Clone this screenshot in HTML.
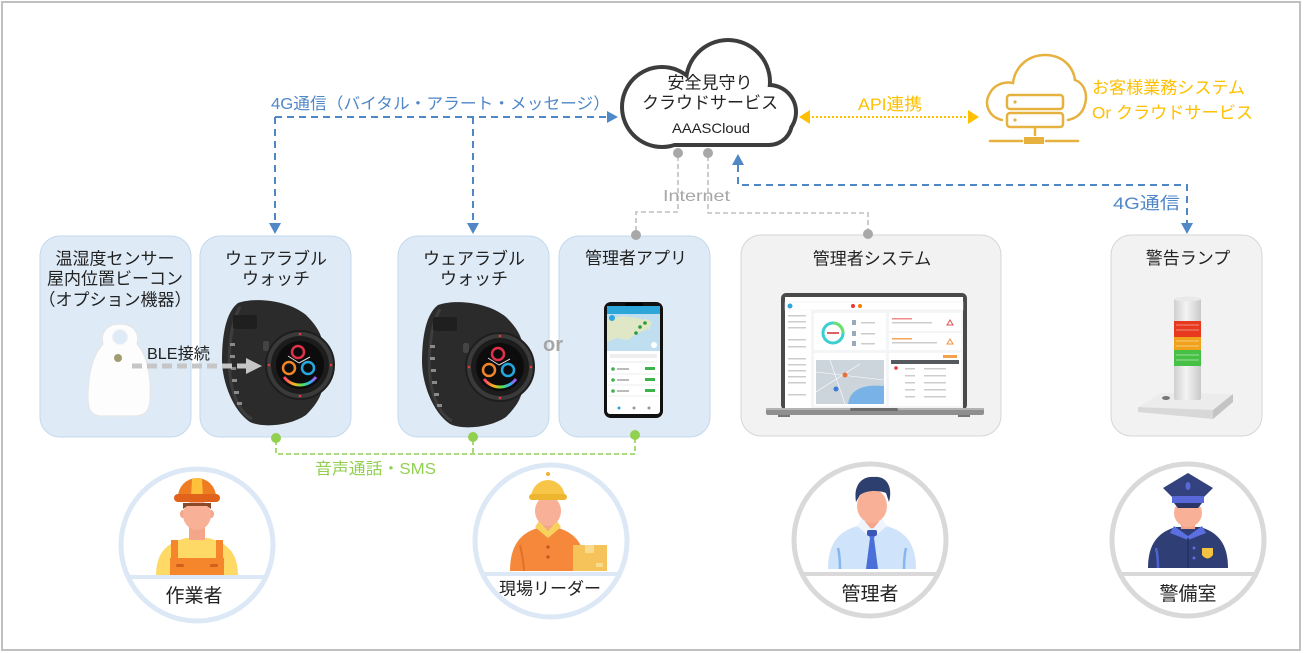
<!DOCTYPE html>
<html><head><meta charset="utf-8"><style>
html,body{margin:0;padding:0;background:#fff;}
svg{display:block;}
text{font-family:"Liberation Sans","Noto Sans CJK JP",sans-serif;}
</style></head><body>
<svg width="1305" height="653" viewBox="0 0 1305 653" xmlns="http://www.w3.org/2000/svg">
<defs>
  <linearGradient id="col" x1="0" x2="1" y1="0" y2="0">
    <stop offset="0" stop-color="#cfcfcf"/><stop offset="0.45" stop-color="#f4f4f4"/><stop offset="1" stop-color="#c9c9c9"/>
  </linearGradient>
  <linearGradient id="rb" x1="0" x2="1" y1="0" y2="0">
    <stop offset="0" stop-color="#ff3b6b"/><stop offset="0.3" stop-color="#ffb020"/><stop offset="0.55" stop-color="#5de04a"/><stop offset="0.8" stop-color="#29b6f6"/><stop offset="1" stop-color="#b04cf0"/>
  </linearGradient>
  <g id="watch">
    <path d="M-62,-62 C-45,-68 -12,-65 6,-50 C14,-42 20,-34 22,-25 L22,25 C20,34 14,42 6,50 C-10,61 -38,63 -50,57 C-68,45 -78,15 -78,-5 C-78,-30 -74,-53 -62,-62 Z" fill="#2b2b2b"/>
    <path d="M-60,-58 C-70,-40 -72,-10 -70,10 C-68,30 -60,48 -48,54" fill="none" stroke="#3d3d3d" stroke-width="3"/>
    <rect x="-67" y="-50" width="24" height="14" rx="2" fill="#1f1f1f"/>
    <rect x="-70" y="-22" width="5" height="3" fill="#8a8a8a"/>
    <rect x="-70" y="-10" width="5" height="3" fill="#8a8a8a"/>
    <rect x="-69" y="2" width="5" height="3" fill="#8a8a8a"/>
    <rect x="-68" y="14" width="5" height="3" fill="#8a8a8a"/>
    <rect x="-66" y="26" width="5" height="3" fill="#8a8a8a"/>
    <rect x="-63" y="37" width="5" height="3" fill="#8a8a8a"/>
    <rect x="-37" y="-24" width="6" height="10" rx="2" fill="#444"/>
    <circle cx="0" cy="0" r="34" fill="#3a3a3a" stroke="#1e1e1e" stroke-width="2"/>
    <circle cx="0" cy="0" r="29" fill="#1c1c1c"/>
    <circle cx="0" cy="0" r="24" fill="#0c0c0c"/>
    <circle cx="0" cy="-31" r="1.3" fill="#e03a3a"/>
    <circle cx="-31" cy="0" r="1.3" fill="#e03a3a"/>
    <circle cx="31" cy="0" r="1.3" fill="#e03a3a"/>
    <circle cx="0" cy="31" r="1.3" fill="#e03a3a"/>
    <circle cx="-2" cy="-13" r="6" fill="none" stroke="#e0304a" stroke-width="2.5"/>
    <circle cx="-11" cy="3" r="6" fill="none" stroke="#f0842a" stroke-width="2.5"/>
    <circle cx="8" cy="3" r="6" fill="none" stroke="#25a8e0" stroke-width="2.5"/>
    <path d="M-16,12 A20,20 0 0 0 16,12" fill="none" stroke="url(#rb)" stroke-width="3"/>
    <line x1="-1" y1="-2" x2="-12" y2="-9" stroke="#ddd" stroke-width="1"/>
    <line x1="-1" y1="-2" x2="10" y2="-8" stroke="#ddd" stroke-width="1"/>
  </g>
</defs>

<rect x="0" y="0" width="1305" height="653" fill="#fff"/>
<rect x="2" y="2" width="1298" height="648" fill="none" stroke="#c0c0c0" stroke-width="2"/>

<!-- Boxes -->
<rect x="40" y="236" width="151" height="201" rx="20" fill="#deebf7" stroke="#c3d8ee" stroke-width="1"/>
<rect x="200" y="236" width="151" height="201" rx="20" fill="#deebf7" stroke="#c3d8ee" stroke-width="1"/>
<rect x="398" y="236" width="151" height="201" rx="20" fill="#deebf7" stroke="#c3d8ee" stroke-width="1"/>
<rect x="559" y="236" width="151" height="201" rx="20" fill="#deebf7" stroke="#c3d8ee" stroke-width="1"/>
<rect x="741" y="235" width="260" height="201" rx="20" fill="#f2f2f2" stroke="#d6d6d6" stroke-width="1"/>
<rect x="1111" y="235" width="151" height="201" rx="20" fill="#f2f2f2" stroke="#d6d6d6" stroke-width="1"/>

<!-- box texts -->
<g font-size="17" fill="#222" text-anchor="middle">
  <text x="115" y="264.5">温湿度センサー</text>
  <text x="115" y="284.5">屋内位置ビーコン</text>
  <text x="115" y="305.5">（オプション機器）</text>
  <text x="276" y="264.5">ウェアラブル</text>
  <text x="276" y="284.5">ウォッチ</text>
  <text x="474" y="264.5">ウェアラブル</text>
  <text x="474" y="284.5">ウォッチ</text>
  <text x="636" y="264">管理者アプリ</text>
  <text x="872" y="264.5">管理者システム</text>
  <text x="1188" y="264">警告ランプ</text>
</g>

<!-- Tag device -->
<path d="M120,324 C133,324 140,333 137,344 C148,356 151,378 150,398 C150,411 145,416 134,416 L102,416 C92,416 88,410 88,398 C88,376 92,356 103,344 C100,333 107,324 120,324 Z" fill="#fdfdfd" stroke="#e4e4e4" stroke-width="1"/>
<circle cx="120" cy="337" r="7.5" fill="#deebf7" stroke="#f2f2f2" stroke-width="1"/>
<circle cx="118" cy="358" r="4" fill="#a29c70"/>

<!-- Watches -->
<use href="#watch" x="300" y="365"/>
<use href="#watch" x="500" y="367"/>

<!-- BLE arrow -->
<line x1="132" y1="366" x2="248" y2="366" stroke="#c6c6c6" stroke-width="5" stroke-dasharray="10 5"/>
<polygon points="246,358 262,366 246,374" fill="#c6c6c6"/>
<text x="147" y="359" font-size="16" fill="#222" textLength="63" lengthAdjust="spacingAndGlyphs">BLE接続</text>

<!-- or -->
<text x="553" y="351" font-size="20" font-weight="bold" fill="#a6a6a6" text-anchor="middle">or</text>

<!-- Phone -->
<rect x="604" y="302" width="59" height="116" rx="7" fill="#111"/>
<rect x="607" y="306" width="53" height="108" rx="3" fill="#fff"/>
<rect x="625" y="303" width="18" height="3" rx="1.5" fill="#000"/>
<rect x="607" y="306" width="53" height="8" fill="#2ea6d9"/>
<rect x="607" y="314" width="53" height="37" fill="#bfdff0"/>
<path d="M607,320 L622,316 L638,318 L650,322 L646,330 L636,334 L628,340 L616,338 L607,342 Z" fill="#dfe7c6"/>
<path d="M645,318 L652,322 L649,330 L643,326 Z" fill="#dfe7c6"/>
<circle cx="640" cy="327" r="1.8" fill="#2a9d3a"/><circle cx="645" cy="323" r="1.8" fill="#2a9d3a"/><circle cx="636" cy="333" r="1.8" fill="#2a9d3a"/>
<circle cx="612" cy="318" r="3" fill="#2ea6d9"/>
<circle cx="654" cy="345" r="3" fill="#fff"/>
<rect x="610" y="354" width="47" height="4" fill="#eee"/>
<rect x="610" y="361" width="47" height="2" fill="#f4f4f4"/>
<g fill="#3cb44b">
<circle cx="613" cy="369" r="1.8"/><circle cx="613" cy="380" r="1.8"/><circle cx="613" cy="391" r="1.8"/>
<rect x="645" y="367" width="10" height="3"/><rect x="645" y="378" width="10" height="3"/><rect x="645" y="389" width="10" height="3"/>
</g>
<g fill="#bbb"><rect x="617" y="368" width="12" height="2"/><rect x="617" y="379" width="12" height="2"/><rect x="617" y="390" width="12" height="2"/></g>
<line x1="608" y1="374" x2="659" y2="374" stroke="#eee"/><line x1="608" y1="385" x2="659" y2="385" stroke="#eee"/><line x1="608" y1="396" x2="659" y2="396" stroke="#eee"/>
<circle cx="619" cy="408" r="1.5" fill="#2ea6d9"/><circle cx="634" cy="408" r="1.5" fill="#999"/><circle cx="649" cy="408" r="1.5" fill="#999"/>

<!-- Laptop -->
<rect x="781" y="293" width="186" height="117" rx="5" fill="#4a4a4a"/>
<rect x="785" y="297" width="178" height="111" fill="#f3f5f7"/>
<rect x="785" y="297" width="178" height="5" fill="#fff"/>
<rect x="785" y="302" width="178" height="8" fill="#fff" stroke="#eee" stroke-width="0.5"/>
<circle cx="790" cy="306" r="2.5" fill="#2ea6d9"/>
<circle cx="853" cy="306" r="2" fill="#e53935"/><circle cx="860" cy="306" r="2" fill="#f57c00"/>
<rect x="785" y="310" width="26" height="98" fill="#fff"/>
<g fill="#ccc"><rect x="788" y="315" width="18" height="1.5"/><rect x="788" y="321" width="18" height="1.5"/><rect x="788" y="327" width="18" height="1.5"/><rect x="788" y="339" width="18" height="1.5"/><rect x="788" y="346" width="18" height="1.5"/><rect x="788" y="358" width="18" height="1.5"/><rect x="788" y="364" width="18" height="1.5"/><rect x="788" y="370" width="18" height="1.5"/><rect x="788" y="376" width="18" height="1.5"/><rect x="788" y="382" width="18" height="1.5"/><rect x="788" y="394" width="18" height="1.5"/></g>
<rect x="814" y="313" width="72" height="37" fill="#fff"/>
<circle cx="833" cy="333" r="10" fill="none" stroke="#3ccfd0" stroke-width="3"/>
<path d="M833,323 A10,10 0 0 1 843,333" fill="none" stroke="#6be06a" stroke-width="3"/>
<rect x="827" y="332" width="12" height="2" fill="#e06060"/>
<g fill="#9ab"><rect x="852" y="320" width="4" height="5"/><rect x="852" y="331" width="4" height="5"/><rect x="852" y="341" width="4" height="5"/></g>
<g fill="#ccc"><rect x="861" y="322" width="14" height="1.5"/><rect x="861" y="333" width="14" height="1.5"/><rect x="861" y="343" width="14" height="1.5"/></g>
<rect x="889" y="313" width="72" height="18" fill="#fff"/>
<rect x="889" y="333" width="72" height="17" fill="#fff"/>
<rect x="892" y="318" width="20" height="1.5" fill="#f28b8b"/><rect x="892" y="322" width="40" height="1.5" fill="#ccc"/>
<rect x="892" y="338" width="20" height="1.5" fill="#f5a55a"/><rect x="892" y="342" width="45" height="1.5" fill="#ccc"/>
<path d="M950,320 l3,5 h-6 z" fill="none" stroke="#e05050" stroke-width="1"/>
<path d="M950,339 l3,5 h-6 z" fill="none" stroke="#f09040" stroke-width="1"/>
<rect x="814" y="353" width="72" height="53" fill="#fff"/>
<rect x="816" y="360" width="68" height="44" fill="#cdd5dc"/>
<path d="M848,404 C850,390 862,384 884,386 L884,404 Z" fill="#79b2e6"/>
<g stroke="#fff" stroke-width="0.6"><line x1="816" y1="372" x2="884" y2="380"/><line x1="830" y1="360" x2="845" y2="404"/><line x1="816" y1="392" x2="860" y2="364"/></g>
<circle cx="845" cy="375" r="2.5" fill="#e5703c"/><circle cx="836" cy="389" r="2.5" fill="#3a7bd5"/>
<rect x="889" y="353" width="72" height="53" fill="#fff"/>
<rect x="943" y="355" width="14" height="3" fill="#f5a04a"/>
<rect x="891" y="360" width="68" height="4" fill="#55585c"/>
<g fill="#ccc"><rect x="905" y="368" width="10" height="1.5"/><rect x="905" y="375" width="10" height="1.5"/><rect x="905" y="382" width="10" height="1.5"/><rect x="905" y="389" width="10" height="1.5"/><rect x="905" y="396" width="10" height="1.5"/><rect x="924" y="368" width="22" height="1.5"/><rect x="924" y="375" width="22" height="1.5"/><rect x="924" y="382" width="22" height="1.5"/><rect x="924" y="389" width="22" height="1.5"/><rect x="924" y="396" width="22" height="1.5"/></g>
<circle cx="896" cy="368" r="1.8" fill="#e53935"/>
<rect x="766" y="408" width="218" height="7" rx="2" fill="#8f8f8f"/>
<rect x="766" y="408" width="218" height="2" fill="#b4b4b4"/>
<rect x="850" y="408" width="48" height="3" rx="1.5" fill="#6e6e6e"/>
<rect x="778" y="415" width="12" height="2" fill="#777"/><rect x="958" y="415" width="12" height="2" fill="#777"/>

<!-- Warning lamp -->
<polygon points="1138,407 1162,393 1233,394 1213,410" fill="#ececec"/>
<polygon points="1138,407 1213,410 1213,419 1138,412" fill="#d8d8d8"/>
<polygon points="1213,410 1233,394 1233,402 1213,419" fill="#c4c4c4"/>
<ellipse cx="1166" cy="398" rx="4" ry="2" fill="#777"/>
<rect x="1174" y="298" width="27" height="102" rx="2" fill="url(#col)"/>
<ellipse cx="1187.5" cy="299" rx="13.5" ry="2.5" fill="#e9e9e9"/>
<rect x="1174" y="321" width="27" height="16" fill="#e8381e"/>
<rect x="1174" y="337" width="27" height="13" fill="#f0a21a"/>
<rect x="1174" y="350" width="27" height="16" fill="#47c145"/>
<g stroke="#ffffff" stroke-opacity="0.45" stroke-width="1">
<line x1="1176" y1="325" x2="1199" y2="325"/><line x1="1176" y1="330" x2="1199" y2="330"/><line x1="1176" y1="341" x2="1199" y2="341"/><line x1="1176" y1="346" x2="1199" y2="346"/><line x1="1176" y1="355" x2="1199" y2="355"/><line x1="1176" y1="360" x2="1199" y2="360"/>
</g>

<!-- Main cloud -->
<g fill="#3d3d3d">
  <circle cx="662" cy="107" r="42"/><circle cx="728" cy="82" r="44"/><circle cx="769" cy="112" r="29"/>
  <rect x="630" y="96" width="164" height="51" rx="25"/>
</g>
<g fill="#fff">
  <circle cx="662" cy="107" r="38"/><circle cx="728" cy="82" r="40"/><circle cx="769" cy="112" r="25"/>
  <rect x="634" y="100" width="156" height="43" rx="21"/>
</g>
<g fill="#222" text-anchor="middle">
  <text x="710" y="88.5" font-size="17">安全見守り</text>
  <text x="710" y="108.5" font-size="17">クラウドサービス</text>
  <text x="711" y="133" font-size="14" textLength="78" lengthAdjust="spacingAndGlyphs">AAASCloud</text>
</g>

<!-- 4G left connectors -->
<g stroke="#4f87c7" stroke-width="2" stroke-dasharray="7 5" fill="none">
  <path d="M275,117 L606,117"/>
  <path d="M275,117 L275,224"/>
  <path d="M473,117 L473,224"/>
</g>
<g fill="#4f87c7">
  <polygon points="607,111 618,117 607,123"/>
  <polygon points="269,223 281,223 275,234"/>
  <polygon points="467,223 479,223 473,234"/>
</g>
<text x="271" y="109" font-size="16" fill="#4f87c7" textLength="339" lengthAdjust="spacingAndGlyphs">4G通信（バイタル・アラート・メッセージ）</text>

<!-- 4G right connector -->
<g stroke="#4f87c7" stroke-width="2" stroke-dasharray="7 5" fill="none">
  <path d="M738,165 L738,185 L1187,185 L1187,224"/>
</g>
<g fill="#4f87c7">
  <polygon points="732,165 744,165 738,154"/>
  <polygon points="1181,223 1193,223 1187,234"/>
</g>
<text x="1113" y="209" font-size="17" fill="#4f87c7" textLength="67" lengthAdjust="spacingAndGlyphs">4G通信</text>

<!-- Internet connectors -->
<g stroke="#bfbfbf" stroke-width="1.6" stroke-dasharray="5 3" fill="none">
  <path d="M678,156 L678,212 L636,212 L636,233"/>
  <path d="M708,156 L708,213 L868,213 L868,231"/>
</g>
<g fill="#a8a8a8">
  <circle cx="678" cy="153" r="5"/><circle cx="708" cy="153" r="5"/>
  <circle cx="636" cy="235" r="5"/><circle cx="868" cy="234" r="5"/>
</g>
<text x="663" y="201" font-size="16" fill="#a6a6a6" textLength="67" lengthAdjust="spacingAndGlyphs">Internet</text>

<!-- API -->
<line x1="808" y1="117" x2="970" y2="117" stroke="#ffc000" stroke-width="2" stroke-dasharray="2 2"/>
<polygon points="799,117 810,110 810,124" fill="#ffc000"/>
<polygon points="979,117 968,110 968,124" fill="#ffc000"/>
<text x="858" y="110" font-size="17" fill="#ffc000" textLength="64" lengthAdjust="spacingAndGlyphs">API連携</text>

<!-- Customer cloud icon -->
<g stroke="#e6b13e" stroke-width="2.5" fill="none" stroke-linecap="round">
  <path d="M1002,120 C989,117 983,104 990,93 C994,85 1004,81 1013,83 C1015,66 1029,55 1045,55 C1062,55 1073,66 1075,80 C1084,83 1088,94 1085,104 C1083,113 1077,118 1068,120"/>
  <rect x="1007" y="95" width="56" height="14" rx="3"/>
  <rect x="1007" y="113" width="56" height="14" rx="3"/>
  <line x1="1035" y1="128" x2="1035" y2="135"/>
  <line x1="990" y1="141" x2="1022" y2="141"/>
  <line x1="1046" y1="141" x2="1078" y2="141"/>
</g>
<rect x="1024" y="137" width="20" height="7" fill="#e6b13e"/>
<circle cx="1015" cy="102" r="1.6" fill="#e6b13e"/><circle cx="1015" cy="120" r="1.6" fill="#e6b13e"/>
<text x="1092" y="93.5" font-size="17" fill="#ffc000" textLength="153" lengthAdjust="spacingAndGlyphs">お客様業務システム</text>
<text x="1092" y="118.5" font-size="17" fill="#ffc000" textLength="161" lengthAdjust="spacingAndGlyphs">Or クラウドサービス</text>

<!-- Green voice/SMS -->
<g stroke="#92d050" stroke-width="1.6" stroke-dasharray="5 3" fill="none">
  <path d="M276,440 L276,454 L635,454 L635,438"/>
  <path d="M473,440 L473,454"/>
</g>
<g fill="#92d050">
  <circle cx="276" cy="438" r="5"/><circle cx="473" cy="437" r="5"/><circle cx="635" cy="435" r="5"/>
</g>
<text x="315" y="474" font-size="16" fill="#92d050" textLength="121" lengthAdjust="spacingAndGlyphs">音声通話・SMS</text>

<!-- People circles -->
<circle cx="197" cy="545" r="76" fill="#fff" stroke="#dce8f5" stroke-width="5"/>
<circle cx="551" cy="541" r="76" fill="#fff" stroke="#dce8f5" stroke-width="5"/>
<circle cx="870" cy="540" r="76" fill="#fff" stroke="#d9d9d9" stroke-width="5"/>
<circle cx="1188" cy="540" r="76" fill="#fff" stroke="#d9d9d9" stroke-width="5"/>

<!-- Worker -->
<path d="M156,576 C156,553 166,543 186,538 L208,538 C228,543 238,553 238,576 Z" fill="#ffd966"/>
<rect x="189" y="520" width="16" height="20" fill="#f4a58a"/>
<rect x="171" y="540" width="7" height="20" fill="#f5862b"/>
<rect x="216" y="540" width="7" height="20" fill="#f5862b"/>
<rect x="170" y="558" width="54" height="18" fill="#f5862b"/>
<rect x="176" y="564" width="8" height="3" rx="1.5" fill="#d2601c"/><rect x="210" y="564" width="8" height="3" rx="1.5" fill="#d2601c"/>
<ellipse cx="183" cy="514" rx="3" ry="4" fill="#f4a58a"/><ellipse cx="211" cy="514" rx="3" ry="4" fill="#f4a58a"/>
<ellipse cx="197" cy="515" rx="14" ry="15" fill="#f8b196"/>
<path d="M183,503 L211,503 L211,509 L207,506 L187,506 L183,509 Z" fill="#8a4a2a"/>
<path d="M178,497 A19,19 0 0 1 216,497 Z" fill="#f07c22"/>
<path d="M192,479 Q197,477 202,479 L203,497 L191,497 Z" fill="#ffc13b"/>
<rect x="174" y="494" width="46" height="8" rx="4" fill="#e0621b"/>

<!-- Leader -->
<path d="M510,571 C510,546 520,533 538,528 L558,528 C576,533 586,546 586,571 Z" fill="#f5883a"/>
<path d="M520,545 C522,555 524,563 524,571" stroke="#e0702a" stroke-width="2" fill="none"/>
<rect x="541" y="516" width="14" height="14" fill="#f4a58a"/>
<polygon points="535,527 548,538 561,527 557,521 548,531 539,521" fill="#f7d35e"/>
<circle cx="548" cy="547" r="1.6" fill="#c0551a"/><circle cx="548" cy="557" r="1.6" fill="#c0551a"/>
<ellipse cx="548" cy="511" rx="13" ry="15" fill="#f8b196"/>
<path d="M531,498 A17,18 0 0 1 565,498 Z" fill="#f7c548"/>
<rect x="529" y="494" width="38" height="6" rx="3" fill="#eeb530"/>
<circle cx="548" cy="474" r="2" fill="#eeb530"/>
<rect x="573" y="545" width="34" height="26" fill="#f6c35a"/>
<rect x="585" y="545" width="9" height="8" fill="#f9db8e"/>
<rect x="596" y="563" width="7" height="4" fill="#f9db8e"/>

<!-- Manager -->
<path d="M828,569 C828,544 838,531 858,526 L886,526 C906,531 916,544 916,569 Z" fill="#cfe3fb"/>
<path d="M838,548 C840,556 840,563 840,569" stroke="#86b6ee" stroke-width="2.5" fill="none"/>
<path d="M906,548 C904,556 904,563 904,569" stroke="#86b6ee" stroke-width="2.5" fill="none"/>
<rect x="865" y="512" width="14" height="16" fill="#f4a58a"/>
<polygon points="857,526 872,539 887,526 882,518 872,530 862,518" fill="#eef5ff"/>
<polygon points="868,534 876,534 874,538 878,569 866,569 870,538" fill="#4a6fd8"/>
<rect x="867" y="530" width="10" height="6" rx="2" fill="#3a56b8"/>
<ellipse cx="872" cy="506" rx="15" ry="17" fill="#f8b196"/>
<path d="M856,502 C853,484 863,476 874,477 C887,476 893,487 889,502 L886,493 C879,490 866,490 860,495 Z" fill="#2c3f6e"/>

<!-- Guard -->
<path d="M1148,568 C1148,544 1158,532 1176,527 L1200,527 C1218,532 1228,544 1228,568 Z" fill="#2f3e75"/>
<path d="M1156,548 C1158,556 1158,563 1158,568" stroke="#4f62d0" stroke-width="2.5" fill="none"/>
<rect x="1181" y="514" width="14" height="15" fill="#f4a58a"/>
<polygon points="1174,526 1188,536 1202,526 1206,533 1188,540 1170,533" fill="#5b6fe0"/>
<line x1="1188" y1="538" x2="1188" y2="568" stroke="#22305e" stroke-width="1.5"/>
<circle cx="1194" cy="548" r="1.5" fill="#5b6fe0"/><circle cx="1194" cy="558" r="1.5" fill="#5b6fe0"/>
<path d="M1202,548 L1213,548 L1213,555 Q1207.5,562 1202,555 Z" fill="#f5c342"/>
<ellipse cx="1188" cy="513" rx="14" ry="14" fill="#f8b196"/>
<polygon points="1163,488 1188,473 1213,488 1204,497 1172,497" fill="#33427e"/>
<ellipse cx="1188" cy="486" rx="2.5" ry="4" fill="#5868d8"/>
<rect x="1172" y="496" width="32" height="7" fill="#5868d8"/>
<polygon points="1174,503 1202,503 1198,508 1178,508" fill="#2a3566"/>

<!-- chord bands -->
<g stroke-width="4">
  <line x1="128" y1="577" x2="266" y2="577" stroke="#dce8f5"/>
  <line x1="482" y1="574" x2="620" y2="574" stroke="#dce8f5"/>
  <line x1="801" y1="574" x2="939" y2="574" stroke="#d9d9d9"/>
  <line x1="1119" y1="574" x2="1257" y2="574" stroke="#d9d9d9"/>
</g>

<!-- people labels -->
<g fill="#222" text-anchor="middle">
  <text x="194" y="602" font-size="19">作業者</text>
  <text x="550" y="594.5" font-size="17">現場リーダー</text>
  <text x="870" y="600" font-size="19">管理者</text>
  <text x="1188" y="600" font-size="19">警備室</text>
</g>
</svg>
</body></html>
